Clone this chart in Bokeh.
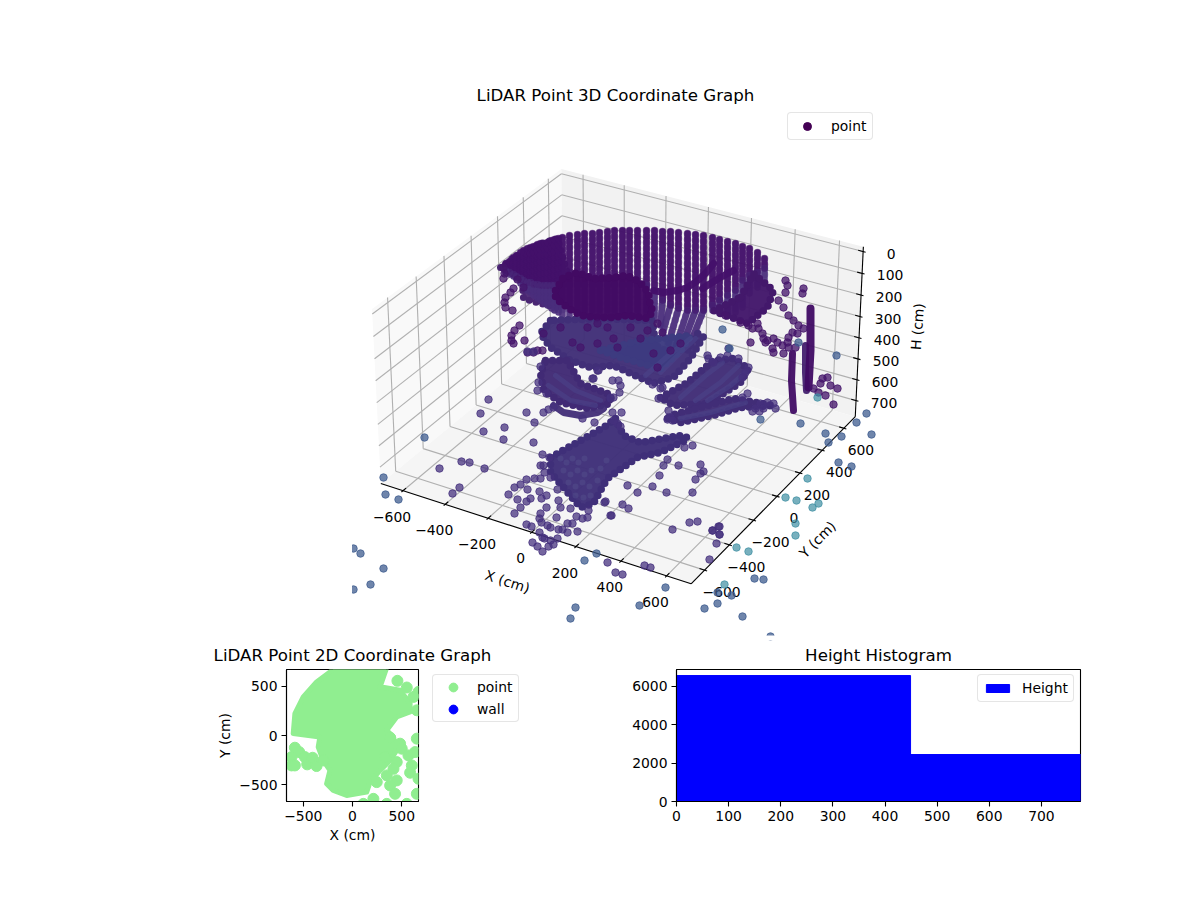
import numpy as np
from bokeh.core.properties import value
from bokeh.embed import file_html
from bokeh.layouts import column, row
from bokeh.models import FixedTicker, Legend, LegendItem, Range1d
from bokeh.plotting import figure
from bokeh.resources import INLINE

FONT = "DejaVu Sans"
TICK_PX = "13.9px"
TITLE_PX = "16.67px"

# 3D view limits and ticks, cm
x_lim = (-678, 678)
y_lim = (-678, 678)
h_lim = (762, -6)
x_ticks = [-600, -400, -200, 0, 200, 400, 600]
y_ticks = [-600, -400, -200, 0, 200, 400, 600]
h_ticks = [0, 100, 200, 300, 400, 500, 600, 700]

ring_x = [505, 509, 513, 516, 520, 523, 527, 530, 533, 537, 540, 544, 547, 551, 554, 558, 562, 569, 577, 584,
          592, 599, 607, 614, 622, 629, 637, 646, 654, 662, 670, 678, 687, 695, 703, 712, 719, 727, 735, 742, 749, 757, 764]
ring_top = [264, 261, 257, 255, 252, 250, 248, 247, 246, 244, 243, 243, 242, 240, 239, 238, 237, 235, 234, 233,
            233, 232, 231, 230, 230, 230, 230, 230, 230, 231, 231, 232, 233, 234, 235, 237, 239, 241, 243, 246, 248, 252, 258]
ring_mid = [270, 272, 274, 276, 278, 280, 282, 282, 284, 284, 285, 285, 285, 285, 285, 285, 285, 285, 285, 285,
            285, 285, 285, 285, 285, 285, 285, 285, 290, 300, 305, 308, 310, 310, 310, 305, 300, 295, 290, 280, 275, 272, 268]
ring_end = [272, 274, 276, 278, 283, 286, 290, 292, 295, 298, 300, 303, 305, 308, 310, 312, 315, 315, 315, 315,
            315, 315, 315, 315, 315, 315, 315, 315, 320, 325, 333, 343, 347, 350, 350, 310, 313, 315, 312, 307, 293, 287, 280]
ring_foot = [505, 509, 513, 516, 520, 523, 527, 530, 533, 537, 540, 544, 547, 551, 554, 558, 562, 569, 577, 584,
             592, 599, 607, 614, 622, 629, 637, 646, 654, 660, 662, 668, 675, 680, 687, 712, 719, 727, 735, 742, 749, 757, 764]

back_u = [[500, 513, 540, 557, 567, 555, 557, 540, 523, 522, 525, 510]]
back_v = [[267, 257, 243, 238, 273, 290, 307, 303, 298, 287, 273, 267]]

mass_u = [[550, 540, 550, 570, 590, 613, 630, 653, 673, 690, 703, 697, 688, 665, 655, 652, 600],
          [600, 630, 660, 680, 690, 640],
          [555, 563, 577, 593, 613, 627, 640, 648, 650, 653, 647, 627, 613, 597, 580, 567, 555],
          [740, 753, 773, 767, 747, 720, 713],
          [545, 567, 580, 607, 610, 587, 560, 543, 540],
          [660, 687, 713, 733, 748, 740, 717, 707, 673],
          [667, 680, 713, 740, 773, 733, 707, 670],
          [615, 623, 640, 680, 687, 685, 660, 637, 607, 600, 593, 580, 563, 550, 550, 580, 603]]
mass_v = [[320, 333, 347, 360, 367, 365, 373, 383, 377, 358, 336, 333, 347, 350, 345, 320, 318],
          [350, 360, 368, 350, 335, 340],
          [290, 277, 272, 278, 277, 275, 282, 292, 307, 310, 318, 315, 317, 317, 315, 307, 298],
          [297, 273, 290, 307, 323, 313, 310],
          [360, 360, 383, 393, 403, 408, 402, 390, 373],
          [397, 382, 360, 358, 368, 382, 397, 403, 405],
          [418, 422, 415, 407, 405, 398, 405, 415],
          [418, 435, 442, 435, 437, 440, 452, 457, 478, 490, 503, 507, 487, 472, 457, 440, 427]]
mass_colors = ["#412f78", "#3d3b80", "#420a63", "#43186b", "#412a75", "#412d77", "#412d77", "#3f2f79"]

strand_u = [[713, 705, 697, 687, 677, 663, 653], [733, 727, 718, 710, 702], [805, 805, 806], [810, 810, 808], [792, 791, 793],
            [553, 563, 580, 597, 603]]
strand_v = [[263, 273, 280, 287, 290, 292, 290], [270, 273, 278, 283, 288], [345, 372, 390], [308, 350, 387], [353, 380, 410],
            [405, 412, 415, 412, 408]]
strand_widths = [7, 7, 7, 8, 7, 7]
strand_colors = ["#44106a", "#44106a", "#43206f", "#3f0a63", "#400c64", "#412d77"]

streak_u = [[680, 705, 722], [695, 720, 738], [707, 730, 745], [680, 710, 745], [660, 680, 695], [645, 668, 690],
            [555, 575, 600], [548, 570, 595]]
streak_v = [[397, 375, 362], [400, 382, 365], [400, 385, 372], [418, 412, 402], [372, 352, 338], [375, 355, 338],
            [375, 390, 400], [385, 400, 405]]

lattice_u = [560, 566, 572, 578, 584, 563, 570, 577, 584, 591, 568, 575, 582, 589, 575, 583, 590, 597, 600, 606]
lattice_v = [458, 462, 458, 462, 458, 470, 474, 470, 474, 470, 482, 486, 482, 486, 495, 497, 495, 480, 468, 460]

top_u = [503, 504, 503, 517, 513, 510, 523, 505, 504, 505, 512, 519, 514, 511, 511, 513, 524, 527, 533, 537, 542,
         785, 787, 785, 803, 802, 778, 783, 788, 793, 798, 803, 797, 792, 788, 787, 773, 767, 763, 758, 752, 750, 765,
         772, 777, 782, 788, 783, 773, 795, 725, 740, 748, 757, 762, 813, 820, 827, 822, 830, 837, 818, 825, 833,
         572, 587, 597, 607, 613, 630, 647, 657, 662, 670, 657, 680, 653, 640, 580, 597, 617, 560, 543]
top_v = [267, 273, 278, 279, 288, 292, 287, 297, 302, 307, 310, 325, 330, 335, 340, 343, 340, 352, 352, 350, 350,
         280, 285, 292, 288, 293, 300, 307, 315, 320, 325, 328, 333, 332, 337, 342, 338, 340, 338, 328, 328, 342, 342,
         348, 342, 345, 347, 353, 352, 347, 315, 322, 325, 323, 333, 388, 383, 377, 378, 385, 388, 392, 395, 404,
         342, 327, 323, 327, 338, 327, 330, 323, 332, 350, 367, 343, 353, 338, 347, 343, 347, 327, 333]

mid_u = [538, 537, 546, 597, 593, 612, 618, 620, 619, 610, 652, 662, 707, 708, 713, 720, 727, 738, 728, 748, 745, 742,
         747, 742, 755, 760, 767, 773, 775, 763, 752, 759, 660, 658, 668, 670, 667, 672, 543, 548, 553, 610, 613, 592,
         598, 612, 621, 582, 594, 527, 533, 540, 617, 620, 613, 684, 692, 663, 667, 678, 700, 703, 700, 659, 695,
         627, 637, 652, 666, 692, 605, 622, 628, 611, 610, 672, 689, 697, 719, 712, 719,
         488, 480, 526, 534, 504, 483, 503, 533, 542, 461, 469, 439, 484, 459, 452, 508, 514, 520, 526, 534, 540, 527,
         517, 526, 520, 514, 530, 541, 539, 546, 557, 558, 546, 540, 560, 570, 556, 539, 541, 526, 531, 547, 550, 539,
         542, 558, 562, 567, 572, 567, 577, 582, 588, 576, 587, 557, 550, 553, 544, 532, 537, 548, 542, 604, 540, 544,
         550, 543, 549, 709, 716, 719, 712, 718, 607, 615, 622, 644, 650]
mid_v = [382, 390, 393, 370, 378, 380, 380, 385, 392, 398, 384, 387, 355, 358, 362, 357, 355, 358, 348, 367, 372, 377,
         393, 397, 408, 403, 402, 403, 408, 408, 411, 411, 388, 398, 410, 417, 419, 420, 412, 409, 407, 397, 397, 378,
         370, 412, 412, 418, 422, 351, 351, 366, 423, 426, 420, 447, 445, 465, 459, 465, 464, 471, 473, 475, 479,
         485, 492, 486, 492, 492, 501, 504, 508, 515, 515, 529, 522, 521, 526, 530, 534,
         399, 413, 412, 422, 427, 431, 439, 442, 454, 461, 462, 468, 468, 487, 493, 494, 487, 484, 479, 478, 478, 489,
         499, 501, 507, 513, 498, 498, 491, 495, 489, 500, 507, 513, 507, 508, 517, 518, 522, 524, 526, 525, 527, 532,
         537, 529, 529, 523, 523, 532, 531, 518, 510, 516, 517, 538, 540, 544, 538, 542, 546, 546, 551, 502, 465, 472,
         477, 465, 457, 559, 543, 534, 530, 526, 562, 572, 574, 565, 567]

blue_u = [424, 383, 385, 398, 353, 360, 383, 370, 353, 575, 570, 596, 584, 639, 665, 754, 763, 717, 731, 717, 704, 742, 770,
          722, 729, 798, 836, 760, 800, 825, 841, 828, 838, 851, 856, 866, 871]
blue_v = [437, 477, 494, 499, 548, 553, 568, 584, 589, 607, 618, 553, 560, 605, 587, 578, 579, 592, 595, 603, 608, 616, 636,
          329, 348, 342, 355, 419, 423, 433, 436, 442, 462, 466, 422, 413, 434]

teal_u = [807, 785, 796, 818, 812, 795, 795, 748, 736, 724, 817]
teal_v = [478, 497, 500, 503, 507, 523, 535, 551, 547, 584, 397]

# 2D scatter, cm
blob_x = [-602, -585, -500, -365, -195, 341, 280, 483, 585, 585, 449, 348, 416, 449, 382, 280, 178, 144, -59, -195, -263,
          -229, -297, -348, -331]
blob_y = [19, 222, 392, 544, 670, 670, 494, 460, 324, 239, 188, 53, -15, -151, -253, -354, -473, -575, -609, -558, -490,
          -354, -253, -117, -15]
point_x = [-585, -541, -619, -619, -585, -483, -460, -405, -365, -297, 456, 551, 670, 619, 653, 653, 382, 483, 500, 636,
           568, 449, 416, 602, 585, 670, 449, 348, 382, 432, 212, 110, 348, 551, 653, 246, 331]
point_y = [-124, -168, -219, -304, -304, -219, -293, -226, -310, -253, 555, 487, 443, 392, 256, -32, -22, -83, -134, -168,
           -202, -270, -338, -304, -378, -439, -456, -405, -507, -592, -643, -694, -694, -694, -592, -473, -219]
wall_x = []
wall_y = []

# height histogram
hist_edges = [0, 449, 776]
hist_counts = [6570, 2450]


# matplotlib's default 3D camera, elev 30, azim -60, in the 527px square axes
def project(x, y, h):
    box = np.array([1.1905, 1.1905, 0.67])
    q = np.array([(x - x_lim[0]) / (x_lim[1] - x_lim[0]) * box[0],
                  (y - y_lim[0]) / (y_lim[1] - y_lim[0]) * box[1],
                  (h - h_lim[0]) / (h_lim[1] - h_lim[0]) * box[2]])
    elev, azim = np.radians(30), np.radians(-60)
    w = np.array([np.cos(elev) * np.cos(azim), np.cos(elev) * np.sin(azim), np.sin(elev)])
    eye = box / 2 + 10 * w
    u = np.cross([0, 0, 1], w)
    u = u / np.linalg.norm(u)
    v = np.cross(w, u)
    d = q - eye
    depth = -w.dot(d)
    return 351.5 + (u.dot(d) / depth + 0.095) / 0.185 * 527, 635 - (v.dot(d) / depth + 0.095) / 0.185 * 527


x0, x1 = x_lim[0] - (x_lim[1] - x_lim[0]) / 48, x_lim[1] + (x_lim[1] - x_lim[0]) / 48
y0, y1 = y_lim[0] - (y_lim[1] - y_lim[0]) / 48, y_lim[1] + (y_lim[1] - y_lim[0]) / 48
hb, ht = h_lim[0] + (h_lim[0] - h_lim[1]) / 48, h_lim[1] - (h_lim[0] - h_lim[1]) / 48

p = figure(width=1192, height=666, x_range=Range1d(0, 1192), y_range=Range1d(666, 0), output_backend="svg",
           toolbar_location=None, x_axis_location=None, y_axis_location=None, min_border=0, outline_line_color=None)
p.grid.visible = False


def pane(corners, color):
    pts = [project(*c) for c in corners]
    p.patch([q[0] for q in pts], [q[1] for q in pts], fill_color=color, line_color=None)


def seg3d(a, b, color="#b0b0b0", width=1.1):
    qa, qb = project(*a), project(*b)
    p.line([qa[0], qb[0]], [qa[1], qb[1]], line_color=color, line_width=width)


def label(u, v, text, size=TICK_PX, angle=0):
    p.text([u], [v], text=[text], text_font=value(FONT), text_font_size=size, text_color="black", angle=np.radians(angle),
           text_align="center", text_baseline="middle")


pane([(x0, y0, hb), (x0, y1, hb), (x0, y1, ht), (x0, y0, ht)], "#f9f9f9")
pane([(x0, y1, hb), (x1, y1, hb), (x1, y1, ht), (x0, y1, ht)], "#f2f2f2")
pane([(x0, y0, hb), (x1, y0, hb), (x1, y1, hb), (x0, y1, hb)], "#f5f5f5")

for t in x_ticks:
    seg3d((t, y0, hb), (t, y1, hb))
    seg3d((t, y1, hb), (t, y1, ht))
for t in y_ticks:
    seg3d((x0, t, hb), (x1, t, hb))
    seg3d((x0, t, hb), (x0, t, ht))
for t in h_ticks:
    seg3d((x0, y0, t), (x0, y1, t))
    seg3d((x0, y1, t), (x1, y1, t))

seg3d((x0, y0, hb), (x1, y0, hb), "black")
seg3d((x1, y0, hb), (x1, y1, hb), "black")
seg3d((x1, y1, hb), (x1, y1, ht), "black")

for t in x_ticks:
    seg3d((t, y0 - 11, hb), (t, y0 + 22, hb), "black")
    u, v = project(t, y0, hb)
    label(u - 11, v + 26, str(t).replace("-", "\u2212"))
for t in y_ticks:
    seg3d((x1 + 11, t, hb), (x1 - 22, t, hb), "black")
    u, v = project(x1, t, hb)
    label(u + 17, v + 22, str(t).replace("-", "\u2212"))
for t in h_ticks:
    seg3d((x1 + 11, y1, t), (x1 - 22, y1, t), "black")
    u, v = project(x1, y1, t)
    label(u + 28, v + 2, str(t))

label(507, 581, "X (cm)", angle=-18)
label(817, 539, "Y (cm)", angle=45)
label(917, 326, "H (cm)", angle=86)
label(615, 95, "LiDAR Point 3D Coordinate Graph", size=TITLE_PX)

p.patches(back_u, back_v, fill_color="#4a2673", line_color="#4a2673", line_width=7, line_join="round", line_cap="round",
          line_dash="0 7", fill_alpha=0.95)

# ring columns: a solid core with dotted edge
p.segment(ring_x, ring_mid, ring_foot, ring_end, line_color="#4a2e7c", line_width=6.5, line_alpha=0.9, line_cap="round")
p.segment(ring_x, ring_top, ring_x, ring_mid, line_color="#43106a", line_width=6.5, line_alpha=0.92, line_cap="round")
p.segment(ring_x, ring_top, ring_x, ring_mid, line_color="#43106a", line_width=7.5, line_alpha=0.55, line_cap="round",
          line_dash="0 6")
p.segment(ring_x, ring_mid, ring_foot, ring_end, line_color="#4a2e7c", line_width=7.5, line_alpha=0.45, line_cap="round",
          line_dash="0 6")

p.patches(mass_u, mass_v, fill_color=mass_colors, line_color=mass_colors, line_width=7.5, line_join="round", line_cap="round",
          line_dash="0 7", fill_alpha=0.97)
p.multi_line(streak_u, streak_v, line_color="#4b4a8e", line_width=5, line_alpha=0.45, line_cap="round")
p.scatter(lattice_u, lattice_v, size=6, fill_color="#55528f", line_color=None, alpha=0.45)
p.multi_line(strand_u, strand_v, line_color=strand_colors, line_width=strand_widths, line_cap="round", line_join="round",
             line_alpha=0.95)

p.scatter(top_u, top_v, size=7.5, fill_color="#45156a", line_color="#45156a", alpha=0.76)
p.scatter(mid_u, mid_v, size=7.5, fill_color="#45307d", line_color="#45307d", alpha=0.74)
p.scatter(blue_u, blue_v, size=7.5, fill_color="#3f5c8f", line_color="#3f5c8f", alpha=0.75)
p.scatter(teal_u, teal_v, size=7.5, fill_color="#3f8ea3", line_color="#3f8ea3", alpha=0.7)

# the axes box clips the cloud
p.quad(left=[0], right=[351.5], top=[500], bottom=[640], fill_color="white", line_color=None)
p.quad(left=[351.5], right=[879], top=[635], bottom=[640], fill_color="white", line_color=None)

# the lower titles run past their canvases, so they sit on this one
label(352, 655, "LiDAR Point 2D Coordinate Graph", size=TITLE_PX)
label(878, 655, "Height Histogram", size=TITLE_PX)

legend_dot = p.scatter([-50], [-50], size=8, fill_color="#440154", line_color="#440154")
legend_3d = Legend(items=[LegendItem(label="point", renderers=[legend_dot])], location=(787, 526), padding=3, margin=0,
                   label_text_font=FONT, label_text_font_size=TICK_PX, label_text_color="black", glyph_width=32, glyph_height=20,
                   label_standoff=8, label_width=38, border_line_color="#cccccc", label_height=14, border_radius=4)
p.add_layout(legend_3d, "center")


def style(fig, xt, yt, xl=None, yl=None):
    for ax in (fig.xaxis, fig.yaxis):
        ax.major_label_text_font = FONT
        ax.major_label_text_font_size = TICK_PX
        ax.major_label_standoff = 4
        ax.axis_label_text_font = FONT
        ax.axis_label_text_font_size = TICK_PX
        ax.axis_label_text_font_style = "normal"
        ax.axis_label_text_color = "black"
        ax.axis_label_standoff = 3
        ax.major_tick_in = 0
        ax.major_tick_out = 5
        ax.major_tick_line_width = 1.1
        ax.axis_line_width = 1.1
        ax.minor_tick_line_color = None
        ax.axis_line_color = "black"
        ax.major_tick_line_color = "black"
        ax.major_label_text_color = "black"
    fig.xaxis.ticker = FixedTicker(ticks=xt)
    fig.yaxis.ticker = FixedTicker(ticks=yt)
    fig.xaxis.major_label_overrides = {t: str(t).replace("-", "\u2212") for t in xt}
    fig.yaxis.major_label_overrides = {t: str(t).replace("-", "\u2212") for t in yt}
    if xl:
        fig.xaxis.axis_label = xl
    if yl:
        fig.yaxis.axis_label = yl
    fig.grid.visible = False
    fig.outline_line_color = "black"
    fig.outline_line_width = 1.1


left = figure(width=420, height=194, title=None, x_range=Range1d(-670, 670), y_range=Range1d(-670, 670), output_backend="svg",
              toolbar_location=None, min_border_left=286, min_border_right=2, min_border_top=3, min_border_bottom=59)
left.patch(blob_x, blob_y, fill_color="#90ee90", line_color="#90ee90", line_width=5, line_join="round")
left.scatter(point_x, point_y, size=11, fill_color="#90ee90", line_color="#90ee90")
left.scatter(wall_x, wall_y, size=11, fill_color="blue", line_color="blue")
style(left, [-500, 0, 500], [-500, 0, 500], "X (cm)", "Y (cm)")

# the 2D legend stands outside its axes, so it gets a blank panel beside them
key = figure(width=128, height=194, title=None, x_range=Range1d(0, 1), y_range=Range1d(0, 1), output_backend="svg",
             toolbar_location=None, x_axis_location=None, y_axis_location=None, min_border_left=0, min_border_top=3,
             min_border_right=0, min_border_bottom=59, outline_line_color=None)
key.grid.visible = False
key_point = key.scatter([-1], [-1], size=11, fill_color="#90ee90", line_color="#90ee90")
key_wall = key.scatter([-1], [-1], size=11, fill_color="blue", line_color="blue")
key_legend = Legend(items=[LegendItem(label="point", renderers=[key_point]), LegendItem(label="wall", renderers=[key_wall])],
                    location=(12, 79), padding=1, margin=0, label_text_font=FONT, label_text_font_size=TICK_PX,
                    label_text_color="black", glyph_width=38, glyph_height=22, label_standoff=5, label_width=40, spacing=0,
                    border_line_color="#cccccc", label_height=14, border_radius=4)
key.add_layout(key_legend, "center")

right = figure(width=572, height=194, title=None, x_range=Range1d(0, 775), y_range=Range1d(0, 6885), output_backend="svg",
               toolbar_location=None, min_border_left=128, min_border_right=40, min_border_top=3, min_border_bottom=59)
bars = right.quad(left=hist_edges[:-1], right=hist_edges[1:], bottom=0, top=hist_counts, fill_color="blue", line_color="blue")
style(right, [0, 100, 200, 300, 400, 500, 600, 700], [0, 2000, 4000, 6000])
right_legend = Legend(items=[LegendItem(label="Height", renderers=[bars])], location=(301, 99), padding=5, margin=0,
                      label_text_font=FONT, label_text_font_size=TICK_PX, label_text_color="black", glyph_width=29, glyph_height=10,
                      label_standoff=10, border_line_color="#cccccc", label_height=14, border_radius=4)
right.add_layout(right_legend, "center")

page = column(p, row(left, key, right, spacing=0), spacing=0)
open("out.html", "w").write(file_html(page, INLINE))
